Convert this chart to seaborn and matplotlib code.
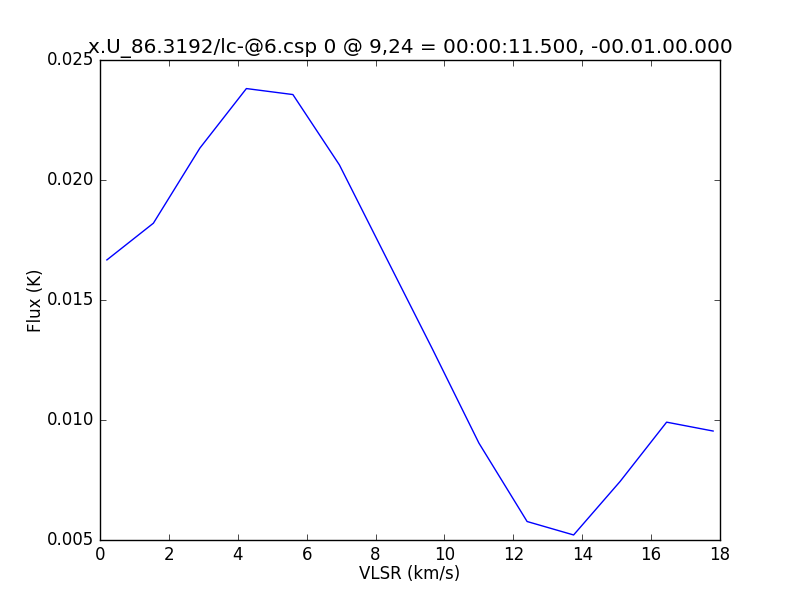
import matplotlib
matplotlib.use("Agg")
import matplotlib.pyplot as plt
import numpy as np
import pandas as pd
import seaborn as sns

# spectrum
vlsr = [0.2, 1.55, 2.9, 4.25, 5.6, 6.95, 8.3, 9.65, 11.0, 12.4, 13.75, 15.1, 16.45, 17.8]
flux = [0.01667, 0.01820, 0.02133, 0.02381, 0.02356, 0.02063, 0.01679, 0.01296,
        0.00904, 0.00577, 0.00521, 0.00744, 0.00991, 0.00954]

title = "x.U_86.3192/lc-@6.csp 0 @ 9,24 = 00:00:11.500, -00.01.00.000"


def make_plot(out_path="out.png"):
    plt.style.use("classic")
    df = pd.DataFrame({"VLSR (km/s)": vlsr, "Flux (K)": flux})

    fig = plt.figure(figsize=(8, 6), dpi=100, facecolor="white")
    ax = fig.add_axes([0.125, 0.1, 0.775, 0.8])
    sns.lineplot(data=df, x="VLSR (km/s)", y="Flux (K)", ax=ax,
                 color="b", linewidth=1, sort=False)
    ax.set_xlim(0, 18)
    ax.set_ylim(0.005, 0.025)
    ax.set_xticks(np.arange(0, 19, 2))
    ax.set_yticks([0.005, 0.010, 0.015, 0.020, 0.025])
    ax.set_yticklabels(["0.005", "0.010", "0.015", "0.020", "0.025"])
    ax.set_xlabel("VLSR (km/s)", labelpad=1)
    ax.set_ylabel("Flux (K)", labelpad=1.5)
    ax.set_title(title)
    fig.savefig(out_path, dpi=100, facecolor="white")
    plt.close(fig)


def main():
    make_plot()


if __name__ == "__main__":
    main()
